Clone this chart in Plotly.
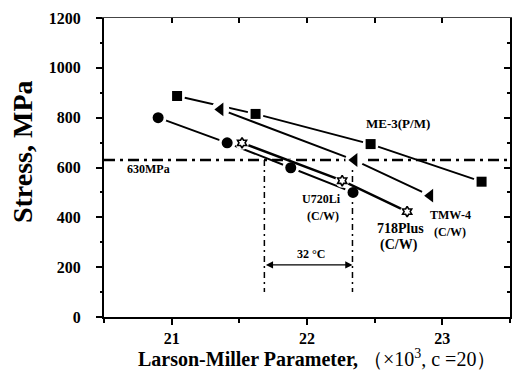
import plotly.graph_objects as go

# ---- data ----
me3_x = [21.04, 21.62, 22.47, 23.29]
me3_y = [887, 815, 694, 543]
tmw4_x = [21.36, 22.35, 22.91]
tmw4_y = [833, 630, 487]
u720_x = [20.90, 21.41, 21.88, 22.34]
u720_y = [800, 699, 599, 500]
p718_x = [21.52, 22.26, 22.74]
p718_y = [699, 547, 423]

ref_stress = 630
vline_x = [21.685, 22.336]
vline_bottom = 100
arrow_y = 209

x_ticks = [21, 22, 23]
y_ticks = [0, 200, 400, 600, 800, 1000, 1200]

FONT = "Liberation Serif, Times New Roman, serif"
BLACK = "black"

fig = go.Figure()

def add_series(xs, ys, symbol, size, lw=1.9, open_marker=False):
    fig.add_trace(go.Scatter(x=xs, y=ys, mode="lines",
                             line=dict(color=BLACK, width=lw),
                             hoverinfo="skip", showlegend=False))
    # white mask to create gaps around markers
    fig.add_trace(go.Scatter(x=xs, y=ys, mode="markers",
                             marker=dict(symbol="circle", size=size + 6, color="white",
                                         line=dict(width=0)),
                             hoverinfo="skip", showlegend=False))
    if open_marker:
        fig.add_trace(go.Scatter(x=xs, y=ys, mode="markers",
                                 marker=dict(symbol=symbol, size=size, color=BLACK,
                                             line=dict(width=1.6, color=BLACK)),
                                 showlegend=False))
    else:
        fig.add_trace(go.Scatter(x=xs, y=ys, mode="markers",
                                 marker=dict(symbol=symbol, size=size, color=BLACK,
                                             line=dict(width=0)),
                                 showlegend=False))

add_series(me3_x, me3_y, "square", 10)
add_series(tmw4_x, tmw4_y, "triangle-left", 12)
add_series(u720_x, u720_y, "circle", 11)
add_series(p718_x, p718_y, "hexagram-open", 8, lw=2.4, open_marker=True)

# invisible trace to instantiate mirror axes (top/right with inside ticks)
fig.add_trace(go.Scatter(x=me3_x, y=me3_y, mode="lines", xaxis="x2", yaxis="y2",
                         line=dict(width=0), opacity=0, hoverinfo="skip", showlegend=False))

# 630 MPa reference line
fig.add_shape(type="line", xref="paper", yref="y", x0=0, x1=1, y0=ref_stress, y1=ref_stress,
              line=dict(color=BLACK, width=2.5, dash="11px,5px,3px,5px"), layer="below")
for vx in vline_x:
    fig.add_shape(type="line", xref="x", yref="y", x0=vx, x1=vx, y0=ref_stress, y1=vline_bottom,
                  line=dict(color=BLACK, width=1.5, dash="6px,4px,2px,4px"), layer="below")

# double arrow
fig.add_annotation(x=vline_x[1], y=arrow_y, ax=vline_x[0], ay=arrow_y, xref="x", yref="y",
                   axref="x", ayref="y", text="", showarrow=True, arrowhead=2, arrowside="end+start",
                   arrowsize=1.2, arrowwidth=1.2, arrowcolor=BLACK)

def label(x, y, text, size):
    fig.add_annotation(x=x, y=y, xref="x", yref="y", text="<b>" + text + "</b>", showarrow=False,
                       font=dict(family=FONT, size=size, color=BLACK))

label(22.03, 252, "32 °C", 12)
label(22.67, 778, "ME-3(P/M)", 13)
label(20.83, 594, "630MPa", 12)
label(22.11, 472, "U720Li", 12)
label(22.12, 404, "(C/W)", 12)
label(22.69, 357, "718Plus", 14)
label(22.68, 290, "(C/W)", 14)
label(23.06, 409, "TMW-4", 12)
label(23.06, 342, "(C/W)", 12)

# axis titles
fig.add_annotation(xref="paper", yref="paper", x=-0.202, y=0.555, xanchor="center", yanchor="middle",
                   text="<b>Stress, MPa</b>",
                   textangle=-90, showarrow=False, font=dict(family=FONT, size=28, color=BLACK))
fig.add_annotation(xref="paper", yref="paper", x=0.525, y=-0.137, xanchor="center", yanchor="middle",
                   text="<b>Larson-Miller Parameter,</b> （×10<sup>3</sup>, c =20）",
                   showarrow=False, font=dict(family=FONT, size=20, color=BLACK))

axis_common = dict(showgrid=False, zeroline=False, color=BLACK)
tickfont = dict(family=FONT, size=16, color=BLACK)

fig.update_layout(
    width=513, height=375,
    margin=dict(l=104, r=3, t=18, b=58),
    paper_bgcolor="white", plot_bgcolor="white",
    font=dict(family=FONT, color=BLACK),
    showlegend=False,
    xaxis=dict(range=[20.5, 23.5], tickvals=x_ticks, ticktext=["<b>%d</b>" % v for v in x_ticks],
               ticks="outside", ticklen=6, tickwidth=1.5,
               minor=dict(dtick=0.5, tick0=20.5, ticks="outside", ticklen=4, tickwidth=1.5),
               showline=True, linewidth=2, linecolor=BLACK,
               tickfont=tickfont, **axis_common),
    yaxis=dict(range=[0, 1200], tickvals=y_ticks, ticktext=["<b>%d</b>" % v for v in y_ticks],
               ticks="outside", ticklen=6, tickwidth=1.5,
               ticklabelstandoff=12,
               minor=dict(dtick=100, ticks="outside", ticklen=2, tickwidth=1.5),
               showline=True, linewidth=2, linecolor=BLACK,
               tickfont=tickfont, **axis_common),
    xaxis2=dict(range=[20.5, 23.5], overlaying="x", side="top", anchor="y2",
                tickvals=x_ticks, ticks="inside", ticklen=5, tickwidth=1.5, showticklabels=False,
                minor=dict(dtick=0.5, tick0=20.5, ticks="inside", ticklen=5, tickwidth=1.5),
                showline=True, linewidth=1, linecolor="#444", **axis_common),
    yaxis2=dict(range=[0, 1200], overlaying="y", side="right", anchor="x2",
                tickvals=y_ticks, ticks="inside", ticklen=6, tickwidth=1.5, showticklabels=False,
                minor=dict(dtick=100, ticks="inside", ticklen=3, tickwidth=1.5),
                showline=True, linewidth=2, linecolor=BLACK, **axis_common),
)

fig.write_html("out.html")
